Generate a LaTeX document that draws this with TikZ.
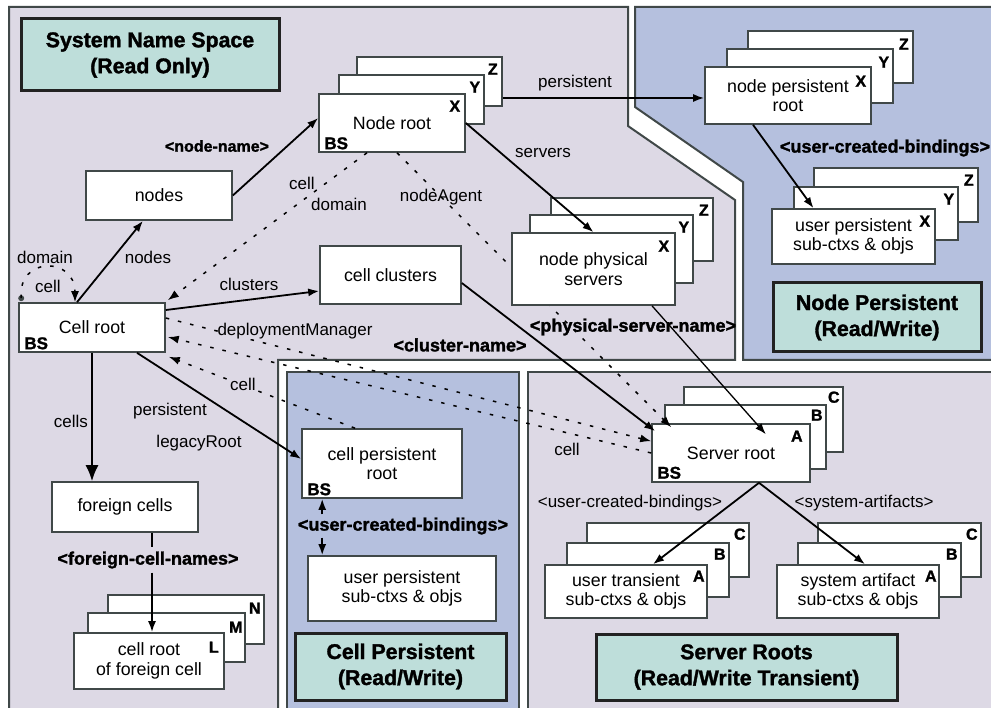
\documentclass[tikz,border=0pt]{standalone}
\usepackage{fontspec}
\setmainfont{Liberation Sans}
\newfontfamily\heavyfont{Liberation Sans Bold}[FakeBold=1.5]
\usetikzlibrary{arrows.meta,fit,calc}
\definecolor{lav}{RGB}{221,217,229}
\definecolor{blu}{RGB}{181,192,222}
\definecolor{ttl}{RGB}{190,222,218}
\definecolor{bord}{RGB}{64,72,72}
\definecolor{tbord}{RGB}{34,34,34}
\newcommand\bx[4]{\node[box, fit={#2 #3}] (#1) {};\node[txt] (#1t) at (#1.center) {#4};}
\newcommand\ttl[4]{\node[titlebox, fit={#2 #3}] (#1) {};\node[ttxt] (#1t) at (#1.center) {#4};}
\begin{document}
\begin{tikzpicture}[x=1pt,y=-1pt,
  region/.style={draw=bord, line width=2pt},
  box/.style={draw=bord, line width=1.6pt, fill=white, inner sep=0pt},
  txt/.style={inner sep=0pt, align=center, font=\fontsize{17.8}{19.5}\selectfont},
  titlebox/.style={draw=tbord, line width=3pt, fill=ttl, inner sep=0pt},
  ttxt/.style={inner sep=0pt, align=center, font=\fontsize{21.3}{26}\selectfont\heavyfont},
  lab/.style={font=\fontsize{17}{19}\selectfont, inner sep=1pt},
  blab/.style={font=\fontsize{18}{20}\selectfont\heavyfont, inner sep=1pt},
  lett/.style={font=\fontsize{16}{18}\selectfont\heavyfont, inner sep=0pt},
  bslab/.style={font=\fontsize{17}{18}\selectfont\heavyfont, inner sep=0pt},
  arr/.style={line width=1.8pt, -{Latex[length=11pt,width=8pt]}},
  dotline/.style={line width=1.5pt, dash pattern=on 3.5pt off 9pt, -{Latex[length=11pt,width=8pt]}},
]
\useasboundingbox (0,0) rectangle (991,708);
\fill[white] (0,0) rectangle (991,708);
% regions
\draw[region, fill=lav] (9,7) -- (628,7) -- (628,126) -- (735,200) -- (735,360) -- (278,360) -- (278,720) -- (9,720) -- cycle;
\draw[region, fill=blu] (635,7) -- (1000,7) -- (1000,360) -- (743,360) -- (743,182) -- (635,107) -- cycle;
\draw[region, fill=blu] (287,372) rectangle (519,720);
\draw[region, fill=lav] (528,372) rectangle (1000,720);
% titles
\ttl{tsns}{(21,19)}{(279,91)}{System Name Space\\(Read Only)}
\ttl{tnp}{(773,283)}{(981,352)}{Node Persistent\\(Read/Write)}
\ttl{tcp}{(295,633)}{(506,700)}{Cell Persistent\\(Read/Write)}
\ttl{tsr}{(596,634)}{(897,700)}{Server Roots\\(Read/Write Transient)}
% simple boxes
\bx{nodes}{(86,171)}{(232,220)}{nodes}
\bx{cr}{(19,303)}{(165,352)}{Cell root}
\node[bslab] at ([xshift=18pt,yshift=9.5pt]cr.south west) {BS};
\bx{cc}{(320,246)}{(461,304)}{cell clusters}
\bx{fc}{(52,482)}{(198,532)}{foreign cells}
\bx{cpr}{(302,429)}{(462,498)}{cell persistent\\root}
\node[bslab] at ([xshift=18pt,yshift=9.5pt]cpr.south west) {BS};
\bx{upc}{(308,556)}{(496,621)}{user persistent\\sub-ctxs \& objs}
% node root stack
\bx{nrC}{(357,57)}{(502,106)}{}
\node[lett] at ([xshift=-10pt,yshift=-13pt]nrC.north east) {Z};
\bx{nrB}{(339,75)}{(484,124)}{}
\node[lett] at ([xshift=-10pt,yshift=-13pt]nrB.north east) {Y};
\bx{nr}{(319,94)}{(465,152)}{Node root}
\node[lett] at ([xshift=-11pt,yshift=-13pt]nr.north east) {X};
\node[bslab] at ([xshift=18pt,yshift=9.5pt]nr.south west) {BS};
% node persistent root stack
\bx{nprC}{(748,31)}{(913,83)}{}
\node[lett] at ([xshift=-10pt,yshift=-14pt]nprC.north east) {Z};
\bx{nprB}{(727,49)}{(893,103)}{}
\node[lett] at ([xshift=-10pt,yshift=-14pt]nprB.north east) {Y};
\bx{npr}{(705,67)}{(871,124)}{node persistent\\root}
\node[lett] at ([xshift=-11pt,yshift=-15pt]npr.north east) {X};
% user persistent (node) stack
\bx{upnC}{(814,168)}{(978,222)}{}
\node[lett] at ([xshift=-10pt,yshift=-13pt]upnC.north east) {Z};
\bx{upnB}{(794,187)}{(958,240)}{}
\node[lett] at ([xshift=-10pt,yshift=-13pt]upnB.north east) {Y};
\bx{upn}{(772,209)}{(935,264)}{user persistent\\sub-ctxs \& objs}
\node[lett] at ([xshift=-11pt,yshift=-13pt]upn.north east) {X};
% cell root of foreign cell stack
\bx{crfC}{(108,595)}{(264,644)}{}
\node[lett] at ([xshift=-10pt,yshift=-14pt]crfC.north east) {N};
\bx{crfB}{(88,613)}{(245,662)}{}
\node[lett] at ([xshift=-10pt,yshift=-15pt]crfB.north east) {M};
\bx{crf}{(74,633)}{(224,689)}{cell root\\of foreign cell}
\node[lett] at ([xshift=-11pt,yshift=-15pt]crf.north east) {L};
% server root stack
\bx{srC}{(684,387)}{(843,452)}{}
\node[lett] at ([xshift=-10pt,yshift=-11pt]srC.north east) {C};
\bx{srB}{(665,405)}{(826,469)}{}
\node[lett] at ([xshift=-10pt,yshift=-11pt]srB.north east) {B};
\bx{sr}{(652,424)}{(810,482)}{Server root}
\node[lett] at ([xshift=-14pt,yshift=-13pt]sr.north east) {A};
\node[bslab] at ([xshift=18pt,yshift=10pt]sr.south west) {BS};
% user transient stack
\bx{utC}{(587,523)}{(749,577)}{}
\node[lett] at ([xshift=-10pt,yshift=-12pt]utC.north east) {C};
\bx{utB}{(567,543)}{(729,597)}{}
\node[lett] at ([xshift=-10pt,yshift=-12pt]utB.north east) {B};
\bx{ut}{(545,565)}{(707,618)}{user transient\\sub-ctxs \& objs}
\node[lett] at ([xshift=-9pt,yshift=-12pt]ut.north east) {A};
% system artifact stack
\bx{saC}{(818,523)}{(981,577)}{}
\node[lett] at ([xshift=-10pt,yshift=-12pt]saC.north east) {C};
\bx{saB}{(798,543)}{(961,597)}{}
\node[lett] at ([xshift=-10pt,yshift=-12pt]saB.north east) {B};
\bx{sa}{(777,565)}{(939,618)}{system artifact\\sub-ctxs \& objs}
\node[lett] at ([xshift=-9pt,yshift=-12pt]sa.north east) {A};
% nodeAgent (passes behind node physical servers)
\draw[dotline] ([xshift=5pt]nr.south) -- ([xshift=20pt,yshift=-4pt]sr.north west);
% node physical servers stack
\bx{npsC}{(551,198)}{(713,261)}{}
\node[lett] at ([xshift=-10pt,yshift=-13pt]npsC.north east) {Z};
\bx{npsB}{(530,215)}{(693,283)}{}
\node[lett] at ([xshift=-10pt,yshift=-13pt]npsB.north east) {Y};
\bx{nps}{(512,233)}{(675,305)}{node physical\\servers}
\node[lett] at ([xshift=-12pt,yshift=-14pt]nps.north east) {X};
% connectors
\draw[arr] (nodes.east) -- ([yshift=5pt]nr.west);
\draw[arr] ([xshift=-15pt]cr.north) -- ([xshift=-16pt]nodes.south);
\coordinate (lp) at ([xshift=3pt,yshift=4pt]cr.north west);
\fill[bord] (lp) circle (3pt);
\draw[dotline] (lp) .. controls +(-4,-42) and +(0,-46) .. ([xshift=-17pt]cr.north);
\draw[dotline] ([xshift=-25pt]nr.south) -- ([xshift=2pt,yshift=2pt]cr.north east);
\draw[arr] ([yshift=-16.5pt]nrC.east) -- ([yshift=-16.5pt]nrC.east -| npr.west);
\draw[arr] (nr.east) -- (nps.north);
\draw[arr] ([yshift=17.5pt]cr.east) -- ([yshift=-16pt]cc.west);
\draw[arr] ([yshift=-8pt]cc.east) -- ([xshift=4pt,yshift=-8pt]sr.north west);
\draw[arr, line width=1.3pt] ([xshift=58.5pt]nps.south) -- ([xshift=-45pt,yshift=-11pt]sr.north east);
\draw[dotline] ([yshift=9.5pt]cr.east) -- ([yshift=-18pt]sr.north west);
\draw[dotline] (sr.west) -- ([xshift=2pt,yshift=-9.5pt]cr.east);
\draw[dotline] ([xshift=-27pt]cpr.north) -- ([xshift=3pt,yshift=-4pt]cr.south east);
\draw[line width=1.8pt, -{Latex[length=16pt,width=13pt]}] (cr.south) -- (cr.south |- fc.north);
\draw[arr] ([xshift=45pt]cr.south) -- ([yshift=4.5pt]cpr.west);
% foreign cell names
\node[blab, inner sep=4pt] (lfc) at (148,560) {<foreign-cell-names>};
\coordinate (fx) at ([xshift=27pt]fc.south);
\draw[line width=1.8pt] (fx) -- (fx |- lfc.north);
\draw[arr] (fx |- lfc.south) -- (fx |- crf.north);
% cell persistent bindings
\node[blab, inner sep=3pt] (lucb) at (403,526) {<user-created-bindings>};
\coordinate (cx) at ([xshift=21pt]cpr.south west);
\draw[arr] (cx |- lucb.north) -- (cx);
\draw[arr] (cx |- lucb.south) -- (cx |- upc.north);
\draw[arr] ([xshift=-35pt]npr.south) -- ([xshift=-40pt]upn.north);
\draw[arr] ([xshift=28pt]sr.south) -- ([xshift=27pt]ut.north);
\draw[arr] ([xshift=28pt]sr.south) -- ([xshift=7pt]sa.north);
% labels
\node[blab, font=\fontsize{16}{18}\selectfont\heavyfont] (lnn) at (217,146) {<node-name>};
\node[lab] (lnodes) at (148,257) {nodes};
\node[lab] (ldom1) at (45,257) {domain};
\node[lab] (lcell1) at (48,286) {cell};
\node[lab] (lcell2) at (302,183) {cell};
\node[lab] (ldom2) at (339,204) {domain};
\node[lab] (lpers1) at (575,83) {persistent};
\node[lab] (lserv) at (543,153) {servers};
\node[lab] (lna) at (441,197) {nodeAgent};
\node[lab] (lclus) at (249,284) {clusters};
\node[lab, fill=lav, inner sep=0pt] (ldm) at (295,331) {deploymentManager};
\node[blab] (lcn) at (460,345) {<cluster-name>};
\node[blab] (lpsn) at (633,327) {<physical-server-name>};
\node[lab, fill=lav, inner sep=0pt] (lcell3) at (243,384) {cell};
\node[lab] (lcell4) at (567,449) {cell};
\node[lab] (lpers2) at (170,411) {persistent};
\node[lab] (llr) at (199,443) {legacyRoot};
\node[lab] (lcells) at (71,421) {cells};
\node[blab] (lucb2) at (885,148) {<user-created-bindings>};
\node[lab] (lucb3) at (630,503) {<user-created-bindings>};
\node[lab] (lsa) at (864,503) {<system-artifacts>};
\end{tikzpicture}
\end{document}
